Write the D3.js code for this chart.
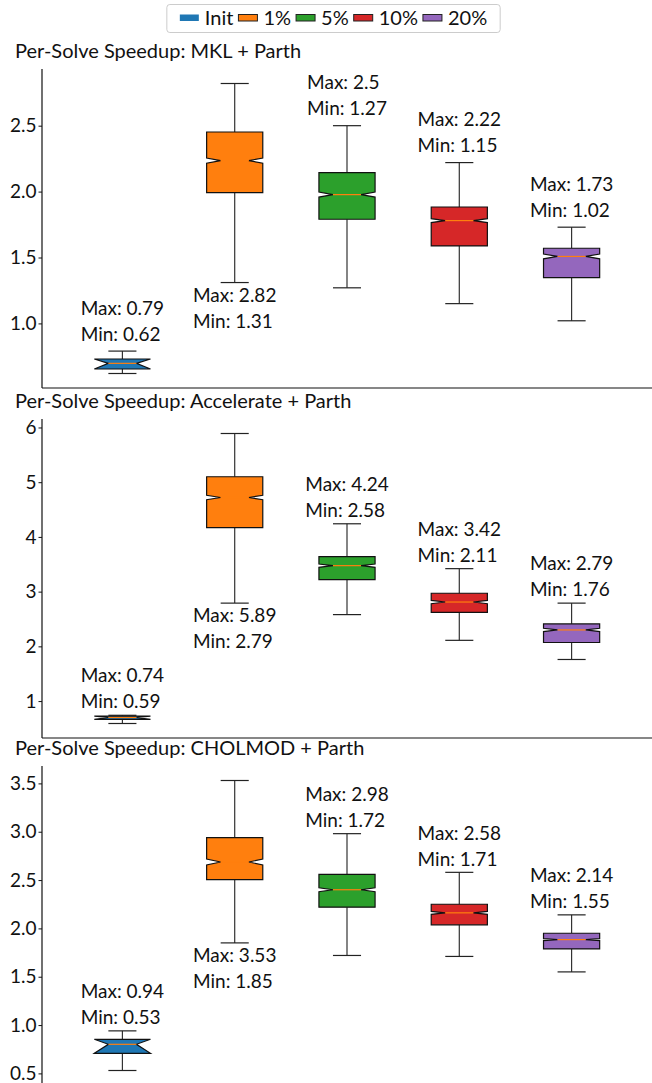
<!DOCTYPE html>
<html>
<head>
<meta charset="utf-8">
<script src="https://cdn.jsdelivr.net/npm/d3@7"></script>
<style>
  body { margin: 0; background: #fff; }
  text { font-family: Lato, "Noto Sans", sans-serif; fill: #111; }
</style>
</head>
<body>
<script>
// categories + colours
var groups = ['Init', '1%', '5%', '10%', '20%'];
var colors = ['#1f77b4', '#ff7f0e', '#2ca02c', '#d62728', '#9467bd'];
var titles = ['Per-Solve Speedup: MKL + Parth', 'Per-Solve Speedup: Accelerate + Parth', 'Per-Solve Speedup: CHOLMOD + Parth'];

// MKL + Parth
var mklLo     = [0.62, 1.31, 1.27, 1.15, 1.02];
var mklHi     = [0.79, 2.82, 2.5, 2.22, 1.73];
var mklQ1     = [0.654, 1.992, 1.790, 1.588, 1.348];
var mklMed    = [0.697, 2.235, 1.977, 1.780, 1.508];
var mklQ3     = [0.730, 2.452, 2.144, 1.883, 1.570];
var mklNotchLo = [0.654, 2.215, 1.958, 1.765, 1.490];
var mklNotchHi = [0.730, 2.255, 1.996, 1.795, 1.526];
var mklTicks  = [1.0, 1.5, 2.0, 2.5];

// Accelerate + Parth
var accLo     = [0.59, 2.79, 2.58, 2.11, 1.76];
var accHi     = [0.74, 5.89, 4.24, 3.42, 2.79];
var accQ1     = [0.665, 4.17, 3.22, 2.62, 2.07];
var accMed    = [0.700, 4.72, 3.475, 2.81, 2.30];
var accQ3     = [0.725, 5.10, 3.64, 2.97, 2.41];
var accNotchLo = [0.665, 4.68, 3.445, 2.78, 2.27];
var accNotchHi = [0.725, 4.76, 3.505, 2.84, 2.33];
var accTicks  = [1, 2, 3, 4, 5, 6];

// CHOLMOD + Parth
var cholLo     = [0.53, 1.85, 1.72, 1.71, 1.55];
var cholHi     = [0.94, 3.53, 2.98, 2.58, 2.14];
var cholQ1     = [0.708, 2.504, 2.22, 2.037, 1.788];
var cholMed    = [0.801, 2.687, 2.40, 2.161, 1.884];
var cholQ3     = [0.853, 2.94, 2.559, 2.25, 1.95];
var cholNotchLo = [0.708, 2.657, 2.38, 2.146, 1.874];
var cholNotchHi = [0.853, 2.717, 2.42, 2.176, 1.894];
var cholTicks  = [0.5, 1.0, 1.5, 2.0, 2.5, 3.0, 3.5];

var panels = [
  { lo: mklLo, hi: mklHi, q1: mklQ1, med: mklMed, q3: mklQ3, nlo: mklNotchLo, nhi: mklNotchHi, ticks: mklTicks, fmt: '.1f' },
  { lo: accLo, hi: accHi, q1: accQ1, med: accMed, q3: accQ3, nlo: accNotchLo, nhi: accNotchHi, ticks: accTicks, fmt: 'd' },
  { lo: cholLo, hi: cholHi, q1: cholQ1, med: cholMed, q3: cholQ3, nlo: cholNotchLo, nhi: cholNotchHi, ticks: cholTicks, fmt: '.1f' }
];

var WIDTH = 652, HEIGHT = 1083;
var LEFT = 42, RIGHT = 652;
var PANEL_TOPS = [69, 419, 766];
var PANEL_H = 319;
var LABEL_GAP = [10.5, 7, 6.5]; // px between top whisker and the "Min" line
var FONT = 19;
var LINE = 26;

var svg = d3.select('body').append('svg')
  .attr('width', WIDTH)
  .attr('height', HEIGHT);

var x = d3.scalePoint()
  .domain(groups)
  .range([LEFT, RIGHT])
  .padding(0.716);
var boxW = x.step() * 0.5;

panels.forEach(function(p, pi) {
  var top = PANEL_TOPS[pi], bottom = top + PANEL_H;
  var lo = d3.min(p.lo), hi = d3.max(p.hi);
  var pad = (hi - lo) * 0.05;
  var y = d3.scaleLinear().domain([lo - pad, hi + pad]).range([bottom, top]);

  var g = svg.append('g');

  // title
  g.append('text')
    .attr('x', 15)
    .attr('y', top - 11)
    .style('font-size', '20px')
    .text(titles[pi]);

  // y axis
  var axis = g.append('g')
    .attr('transform', 'translate(' + LEFT + ',0)')
    .call(d3.axisLeft(y).tickValues(p.ticks).tickFormat(d3.format(p.fmt)).tickSize(3.5).tickPadding(2));
  axis.select('.domain').remove();
  axis.selectAll('text').style('font-size', FONT + 'px').attr('fill', '#111').style('font-family', 'Lato, sans-serif');
  axis.selectAll('line').attr('stroke', '#111');

  // spines
  g.append('line').attr('x1', LEFT).attr('x2', LEFT).attr('y1', top).attr('y2', bottom)
    .attr('stroke', '#111').attr('stroke-width', 1.2);
  g.append('line').attr('x1', LEFT).attr('x2', RIGHT).attr('y1', bottom).attr('y2', bottom)
    .attr('stroke', '#111').attr('stroke-width', 1.2);

  groups.forEach(function(name, i) {
    var cx = x(name);
    var xl = cx - boxW / 2, xr = cx + boxW / 2;
    var xli = cx - boxW / 4, xri = cx + boxW / 4;

    // whiskers
    g.append('line').attr('x1', cx).attr('x2', cx).attr('y1', y(p.q1[i])).attr('y2', y(p.lo[i]))
      .attr('stroke', '#333').attr('stroke-width', 1.2);
    g.append('line').attr('x1', cx).attr('x2', cx).attr('y1', y(p.q3[i])).attr('y2', y(p.hi[i]))
      .attr('stroke', '#333').attr('stroke-width', 1.2);
    // caps
    [p.lo[i], p.hi[i]].forEach(function(v) {
      g.append('line').attr('x1', xli).attr('x2', xri).attr('y1', y(v)).attr('y2', y(v))
        .attr('stroke', '#222').attr('stroke-width', 1.2);
    });

    // notched box
    var pts = [
      [xl, y(p.q1[i])], [xl, y(p.nlo[i])], [xli, y(p.med[i])], [xl, y(p.nhi[i])], [xl, y(p.q3[i])],
      [xr, y(p.q3[i])], [xr, y(p.nhi[i])], [xri, y(p.med[i])], [xr, y(p.nlo[i])], [xr, y(p.q1[i])]
    ];
    g.append('path')
      .attr('d', d3.line()(pts) + 'Z')
      .attr('fill', colors[i])
      .attr('stroke', '#111')
      .attr('stroke-width', 1.2)
      .attr('stroke-linejoin', 'miter');

    // median
    g.append('line').attr('x1', xli).attr('x2', xri).attr('y1', y(p.med[i])).attr('y2', y(p.med[i]))
      .attr('stroke', '#ff7f0e').attr('stroke-width', 1.2);

    // max/min labels: above the top whisker, below the bottom one if no room
    var yHi = y(p.hi[i]), yLo = y(p.lo[i]);
    var maxBase, minBase;
    if (yHi - LABEL_GAP[pi] - LINE - 14 < top) {
      maxBase = yLo + 19;
      minBase = maxBase + LINE;
    } else {
      minBase = yHi - LABEL_GAP[pi];
      maxBase = minBase - LINE;
    }
    var t1 = g.append('text').attr('y', maxBase).style('font-size', FONT + 'px').text('Max: ' + p.hi[i]);
    var t2 = g.append('text').attr('y', minBase).style('font-size', FONT + 'px').text('Min: ' + p.lo[i]);
    var w = Math.max(t1.node().getComputedTextLength(), t2.node().getComputedTextLength());
    t1.attr('x', cx - w / 2);
    t2.attr('x', cx - w / 2);
  });
});

// ------------------------ LEGEND ------------------------
var legend = svg.append('g');
var frame = legend.append('rect')
  .attr('y', 4.5).attr('height', 28)
  .attr('rx', 3)
  .attr('fill', '#fff')
  .attr('stroke', '#ccc')
  .attr('stroke-width', 1);
var cursor = 0;
var items = legend.append('g');
groups.forEach(function(name, i) {
  items.append('rect')
    .attr('x', cursor).attr('y', 14.5)
    .attr('width', 19).attr('height', 6.5)
    .attr('fill', colors[i])
    .attr('stroke', i === 0 ? 'none' : '#222')
    .attr('stroke-width', 1);
  cursor += 25;
  var t = items.append('text')
    .attr('x', cursor).attr('y', 25)
    .style('font-size', '20px')
    .text(name);
  cursor += t.node().getComputedTextLength() + 5;
});
var legendW = cursor - 5 + 26;
var legendX = 333.5 - legendW / 2;
frame.attr('x', legendX).attr('width', legendW);
items.attr('transform', 'translate(' + (legendX + 13) + ',0)');
</script>
</body>
</html>
